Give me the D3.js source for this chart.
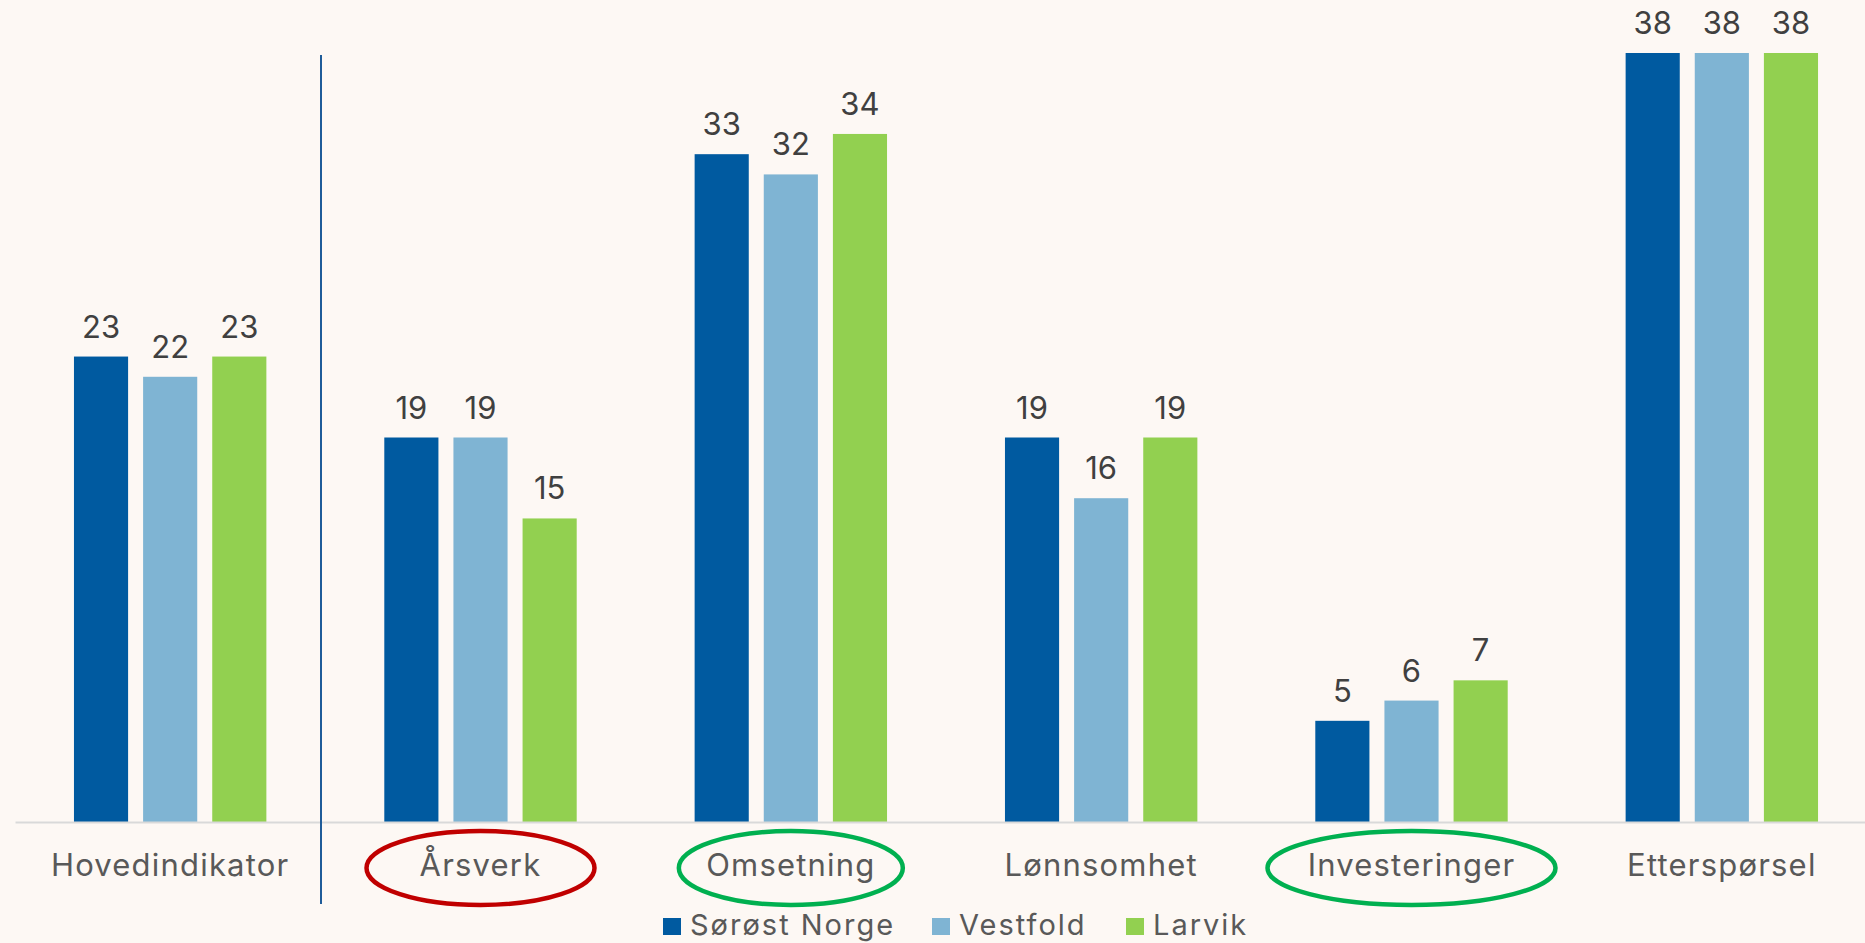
<!DOCTYPE html>
<html>
<head>
<meta charset="utf-8">
<script src="https://cdn.jsdelivr.net/npm/d3@7"></script>
<style>
    body { margin: 0; background: #FDF8F4; }
    svg { display: block; font-family: Inter, "Open Sans", sans-serif; }
</style>
</head>
<body>
<div id="chart-area"></div>
<script>
// data
const categories = ["Hovedindikator", "Årsverk", "Omsetning", "Lønnsomhet", "Investeringer", "Etterspørsel"];
const seriesNames = ["Sørøst Norge", "Vestfold", "Larvik"];
const sorostNorge = [23, 19, 33, 19, 5, 38];
const vestfold = [22, 19, 32, 16, 6, 38];
const larvik = [23, 15, 34, 19, 7, 38];
const colors = ["#005AA0", "#7FB4D3", "#92D050"];
// annotations: which categories get circled, and in what colour
const circled = [
    {cat: "Årsverk", color: "#C00000", rx: 114},
    {cat: "Omsetning", color: "#00B050", rx: 112},
    {cat: "Investeringer", color: "#00B050", rx: 144}
];

const WIDTH = 1865, HEIGHT = 943;
const BASE = 822;

const svg = d3.select("#chart-area").append("svg")
    .attr("width", WIDTH)
    .attr("height", HEIGHT);

svg.append("rect").attr("width", WIDTH).attr("height", HEIGHT).attr("fill", "#FDF8F4");

const rows = categories.map((c, i) => ({
    cat: c,
    values: [sorostNorge[i], vestfold[i], larvik[i]]
}));

// scales
const x0 = d3.scaleBand().domain(categories).range([15, 1877]).paddingInner(0.38).paddingOuter(0.19);
const x1 = d3.scaleBand().domain(d3.range(3)).range([0, x0.bandwidth()]).paddingInner(0.217);
const y = d3.scaleLinear().domain([0, 38]).range([BASE, 53]);

// bars
const groups = svg.append("g").selectAll("g")
    .data(rows)
    .join("g")
    .attr("transform", d => `translate(${x0(d.cat)},0)`);

groups.selectAll("rect")
    .data(d => d.values)
    .join("rect")
    .attr("x", (d, i) => x1(i))
    .attr("y", d => y(d))
    .attr("width", x1.bandwidth())
    .attr("height", d => BASE - y(d))
    .attr("fill", (d, i) => colors[i]);

groups.selectAll("text")
    .data(d => d.values)
    .join("text")
    .attr("x", (d, i) => x1(i) + x1.bandwidth() / 2)
    .attr("y", d => y(d) - 19)
    .attr("text-anchor", "middle")
    .attr("font-size", 31)
    .attr("fill", "#404040")
    .text(d => d);

// x axis
const xAxis = svg.append("g")
    .attr("transform", `translate(0,${BASE})`)
    .call(d3.axisBottom(x0).tickSize(0).tickPadding(0));
xAxis.select(".domain").attr("stroke", "#D9D9D9").attr("stroke-width", 2);
xAxis.selectAll(".tick text")
    .attr("y", 54)
    .attr("dy", 0)
    .attr("font-size", 31)
    .attr("letter-spacing", 1.2)
    .attr("font-family", "Inter, sans-serif")
    .attr("fill", "#595959");

// separator after main indicator
svg.append("line")
    .attr("x1", 321).attr("x2", 321)
    .attr("y1", 55).attr("y2", 904)
    .attr("stroke", "#1F5C99")
    .attr("stroke-width", 2);

// ellipses round highlighted labels
svg.append("g").selectAll("ellipse")
    .data(circled)
    .join("ellipse")
    .attr("cx", d => x0(d.cat) + x0.bandwidth() / 2)
    .attr("cy", 868)
    .attr("rx", d => d.rx)
    .attr("ry", 37)
    .attr("fill", "none")
    .attr("stroke", d => d.color)
    .attr("stroke-width", 4.5);

// legend
const legendX = [663, 932, 1126];
const legend = svg.append("g").selectAll("g")
    .data(seriesNames)
    .join("g")
    .attr("transform", (d, i) => `translate(${legendX[i]},918)`);
legend.append("rect")
    .attr("width", 18).attr("height", 17)
    .attr("fill", (d, i) => colors[i]);
legend.append("text")
    .attr("x", 27)
    .attr("y", 17)
    .attr("font-size", 29)
    .attr("letter-spacing", 2)
    .attr("fill", "#595959")
    .text(d => d);
</script>
</body>
</html>
